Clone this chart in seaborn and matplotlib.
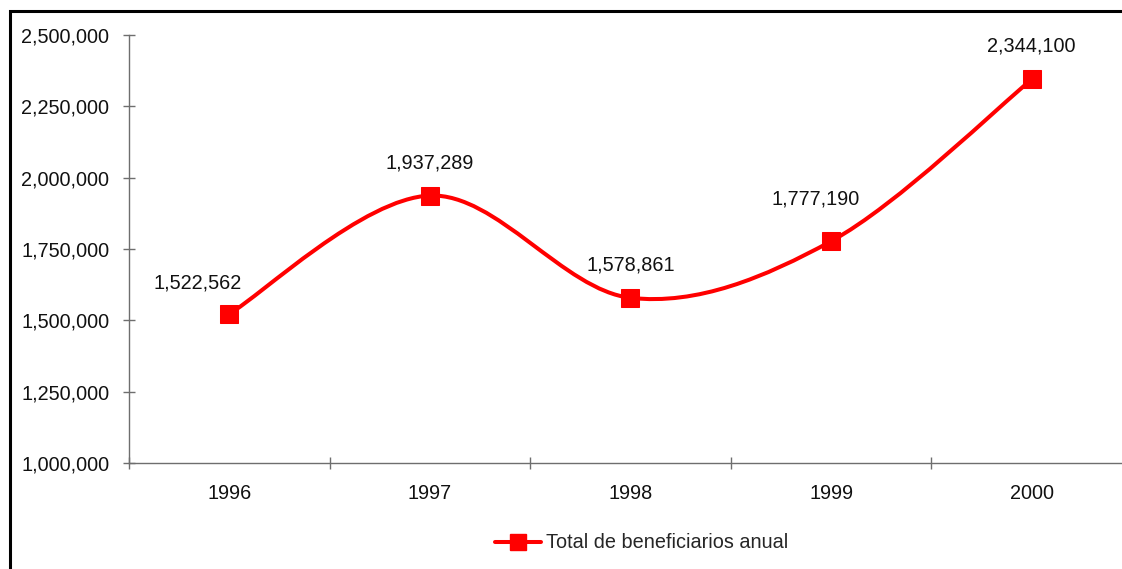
import numpy as np
import pandas as pd
import seaborn as sns
import matplotlib
matplotlib.use("Agg")
import matplotlib.pyplot as plt
from matplotlib.path import Path
from matplotlib.patches import PathPatch, Rectangle
from matplotlib.lines import Line2D
from matplotlib.ticker import FuncFormatter, FixedLocator

years = ["1996", "1997", "1998", "1999", "2000"]
beneficiarios = [1522562, 1937289, 1578861, 1777190, 2344100]
series_name = "Total de beneficiarios anual"
y_ticks = [1000000, 1250000, 1500000, 1750000, 2000000, 2250000, 2500000]

sns.set_style("white")
plt.rcParams["font.family"] = ["Liberation Sans", "DejaVu Sans"]
FS = 14.3
RED = "#ff0000"
AXC = "#6e6e6e"

df = pd.DataFrame({"x": np.arange(len(years)), "y": beneficiarios})

fig = plt.figure(figsize=(11.22, 5.69), dpi=100)
W, H = 1122, 569
ax = fig.add_axes([129 / W, (H - 463) / H, 1003 / W, 428 / H])

# Excel-style smoothed line (Catmull-Rom Bezier through the data points)
xs = df["x"].to_numpy(dtype=float)
ys = df["y"].to_numpy(dtype=float)
n = len(xs)
verts = [(xs[0], ys[0])]
codes = [Path.MOVETO]
for i in range(n - 1):
    p0 = (xs[max(i - 1, 0)], ys[max(i - 1, 0)])
    p1 = (xs[i], ys[i])
    p2 = (xs[i + 1], ys[i + 1])
    p3 = (xs[min(i + 2, n - 1)], ys[min(i + 2, n - 1)])
    c1 = (p1[0] + (p2[0] - p0[0]) / 6, p1[1] + (p2[1] - p0[1]) / 6)
    c2 = (p2[0] - (p3[0] - p1[0]) / 6, p2[1] - (p3[1] - p1[1]) / 6)
    verts += [c1, c2, p2]
    codes += [Path.CURVE4] * 3
ax.add_patch(PathPatch(Path(verts, codes), facecolor="none", edgecolor=RED,
                       lw=2.9, capstyle="round", joinstyle="round", zorder=2))

sns.lineplot(data=df, x="x", y="y", ax=ax, marker="s", markersize=13.5,
             markerfacecolor=RED, markeredgecolor=RED, color=RED,
             linestyle="", linewidth=0, zorder=3, legend=False)

offsets = [(-32, 31), (0, 33), (0, 33), (-15, 42), (0, 33)]
for xi, yi, (dx, dy) in zip(xs, ys, offsets):
    ax.annotate(f"{int(yi):,}", (xi, yi), xytext=(dx * 0.72, dy * 0.72),
                textcoords="offset points", ha="center", va="center",
                fontsize=FS, color="#111111")

ax.set_xlim(-0.5, n - 0.5)
ax.set_ylim(y_ticks[0], y_ticks[-1])
ax.set_xlabel("")
ax.set_ylabel("")

ax.xaxis.set_major_locator(FixedLocator(np.arange(-0.5, n, 1.0)))
ax.xaxis.set_major_formatter(FuncFormatter(lambda v, p: ""))
ax.xaxis.set_minor_locator(FixedLocator(xs))
ax.set_xticklabels(years, minor=True)
ax.tick_params(axis="x", which="major", bottom=True, direction="inout",
               length=8.6, width=1, color=AXC)
ax.tick_params(axis="x", which="minor", bottom=True, length=0, pad=15,
               labelsize=FS, labelcolor="#111111")

ax.set_yticks(y_ticks)
ax.yaxis.set_major_formatter(FuncFormatter(lambda v, p: f"{int(v):,}"))
ax.tick_params(axis="y", left=True, direction="inout", length=8.6, width=1,
               color=AXC, pad=10, labelsize=FS, labelcolor="#111111")

for s in ["top", "right"]:
    ax.spines[s].set_visible(False)
for s in ["left", "bottom"]:
    ax.spines[s].set_color(AXC)
    ax.spines[s].set_linewidth(1)
ax.set_facecolor("none")

handle = Line2D([], [], color=RED, lw=2.9, marker="s", markersize=11,
                markerfacecolor=RED, markeredgecolor=RED)
fig.legend([handle], [series_name], loc="center",
           bbox_to_anchor=(641.5 / W, 1 - 543 / H), frameon=False,
           fontsize=FS, handlelength=2.3, handletextpad=0.25)

# outer chart frame (cut off at the right and bottom edges)
fig.patches.append(Rectangle((9.5 / W, -0.05), 1.2, 1 - 10.5 / H + 0.05,
                             transform=fig.transFigure, fill=False,
                             edgecolor="black", lw=2.2, figure=fig))

fig.savefig("out.png", dpi=100)
